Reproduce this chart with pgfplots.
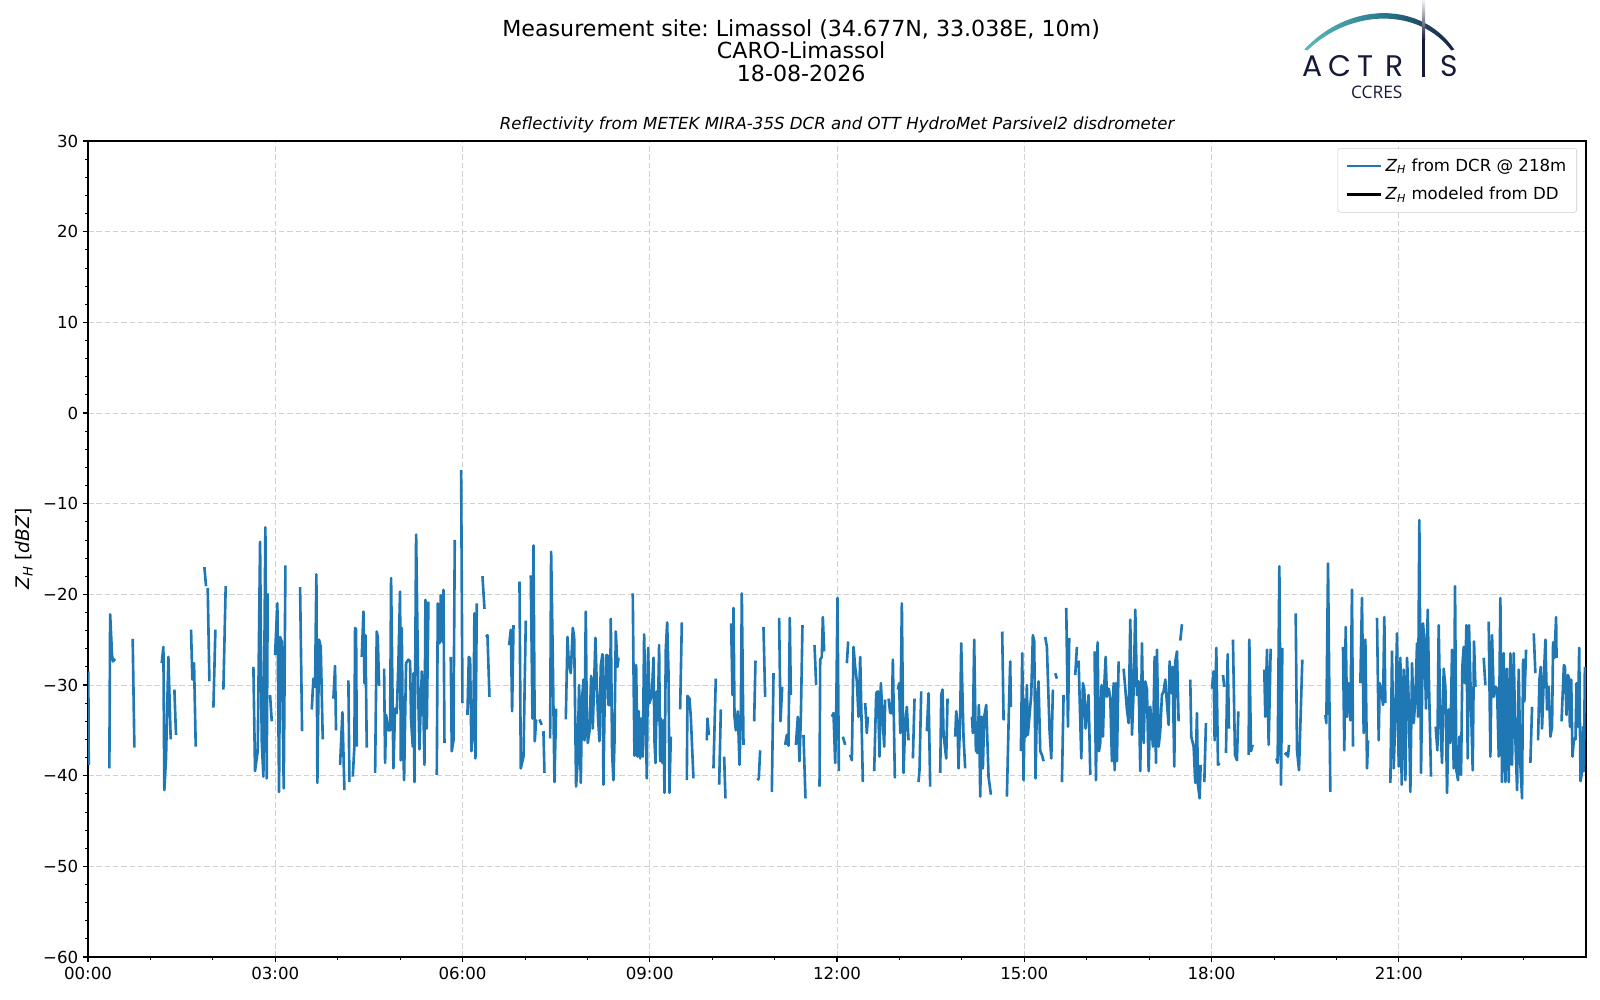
\documentclass[border=0pt]{standalone}
\usepackage{fontspec}
\setmainfont{DejaVu Sans}
\newfontfamily\logofont{Poppins}
\newfontfamily\ccresfont{Open Sans}
\usepackage{pgfplots}
\pgfplotsset{compat=1.18}
\definecolor{mplblue}{HTML}{1F77B4}
\definecolor{logonavy}{HTML}{161A3A}
\definecolor{logoteal}{HTML}{5BBFBA}
\definecolor{logomid}{HTML}{2A7C90}
\newcommand{\ZH}{\textit{Z}\textsubscript{\textit{H}}}
\begin{document}
\frenchspacing
\begin{tikzpicture}
\path[use as bounding box] (0,0) rectangle (40.64cm,25.4cm);
\begin{axis}[
  at={(2.2352cm,1.0922cm)}, anchor=south west,
  scale only axis, width=38.049cm, height=20.726cm,
  xmin=0, xmax=24, ymin=-60, ymax=30,
  xtick={0,3,...,21},
  xticklabels={00:00,03:00,06:00,09:00,12:00,15:00,18:00,21:00},
  minor xtick={1,2,4,5,7,8,10,11,13,14,16,17,19,20,22,23},
  ytick={-60,-50,...,30},
  yticklabels={−60,−50,−40,−30,−20,−10,0,10,20,30},
  minor ytick={-58,-56,...,28},
  tick align=outside, tick pos=left,
  major tick length=3.5pt, minor tick length=2pt,
  every tick/.style={black, line width=0.8pt},
  minor tick style={black, line width=0.6pt},
  axis line style={line width=0.8pt},
  grid=major,
  major grid style={dash pattern=on 4pt off 2pt, color=black!18, line width=0.7pt},
  tick label style={font=\fontsize{12}{14}\selectfont},
  /pgf/number format/assume math mode=true,
  unbounded coords=jump,
  ylabel={\ZH\ [\textit{dBZ}]},
  ylabel style={font=\fontsize{13.5}{15}\selectfont, at={(axis description cs:-0.0427,0.5)}, anchor=center},
  legend style={at={(axis description cs:0.994,0.9914)}, anchor=north east,
    draw=black!20, rounded corners=2pt, fill=white, fill opacity=0.8, text opacity=1,
    font=\fontsize{12}{14}\selectfont, inner xsep=5.5pt, inner ysep=5.5pt, row sep=6pt,
    cells={anchor=west}},
  legend image code/.code={\draw[#1] (0pt,0pt) -- (25pt,0pt);},
]
\addplot[mplblue, line width=1.9pt, line join=round, forget plot] coordinates {
(0.005,-28.5) (0.012,-38.8) (0.013,nan)
(0.342,-39.2) (0.355,-22.2) (0.385,-26.7) (0.40,-27.4) (0.433,-27.1) (0.44,nan)
(0.716,-24.9) (0.743,-36.9) (0.75,nan)
(1.181,-27.6) (1.208,-25.8) (1.223,-41.6) (1.25,-38.1) (1.261,-34.8) (1.288,-26.9) (1.325,-36.0) (1.33,nan)
(1.384,-30.5) (1.41,-35.5) (1.42,nan)
(1.651,-23.9) (1.672,-29.4) (1.699,-27.6) (1.726,-36.8) (1.73,nan)
(1.865,-17.0) (1.891,-19.1) (1.90,nan)
(1.918,-19.3) (1.945,-29.6) (1.95,nan)
(2.009,-32.5) (2.041,-23.9) (2.05,nan)
(2.169,-30.5) (2.206,-19.1) (2.21,nan)
(2.65,-28.0) (2.676,-39.5) (2.719,-37.3) (2.757,-14.2) (2.783,-36.1) (2.81,-40.1) (2.842,-12.6) (2.863,-40.3) (2.879,-19.9) (2.89,nan)
(2.917,-31.1) (2.944,-34.0) (2.95,nan)
(2.997,-26.7) (3.034,-21.0) (3.061,-41.8) (3.077,-24.7) (3.104,-25.2) (3.136,-41.4) (3.163,-16.8) (3.17,nan)
(3.398,-19.2) (3.43,-35.1) (3.44,nan)
(3.585,-32.7) (3.611,-29.3) (3.638,-30.2) (3.659,-17.8) (3.675,-40.8) (3.702,-25.0) (3.729,-25.8) (3.761,-36.0) (3.77,nan)
(3.932,-31.5) (3.958,-27.9) (3.974,-35.0) (3.98,nan)
(4.039,-38.8) (4.076,-33.0) (4.108,-41.6) (4.11,nan)
(4.172,-29.5) (4.188,-40.7) (4.19,nan)
(4.242,-40.1) (4.268,-36.8) (4.279,-23.7) (4.295,-23.9) (4.306,-36.8) (4.31,nan)
(4.386,-26.9) (4.413,-21.9) (4.429,-29.8) (4.445,-24.5) (4.466,-36.9) (4.47,nan)
(4.600,-39.7) (4.626,-24.1) (4.642,-24.7) (4.664,-30.1) (4.67,nan)
(4.744,-28.2) (4.760,-38.6) (4.776,-33.3) (4.813,-35.0) (4.840,-35.0) (4.856,-18.2) (4.893,-39.2) (4.920,-32.6) (4.947,-33.1) (4.973,-27.6) (5.000,-19.7) (5.011,-38.3) (5.027,-23.7) (5.043,-35.0) (5.064,-40.5) (5.096,-27.6) (5.134,-27.2) (5.160,-27.4) (5.176,-33.8) (5.203,-36.8) (5.214,-28.7) (5.230,-40.7) (5.257,-13.4) (5.294,-32.0) (5.310,-37.1) (5.348,-28.5) (5.374,-32.6) (5.390,-38.8) (5.406,-20.6) (5.428,-34.8) (5.454,-20.8) (5.46,nan)
(5.588,-39.9) (5.604,-21.0) (5.631,-25.4) (5.652,-20.1) (5.673,-25.2) (5.695,-19.5) (5.711,-36.4) (5.72,nan)
(5.812,-26.9) (5.828,-37.3) (5.855,-36.1) (5.876,-14.0) (5.88,nan)
(5.978,-6.3) (5.999,-32.0) (6.01,nan)
(6.079,-33.3) (6.101,-26.9) (6.122,-27.1) (6.143,-37.3) (6.175,-34.2) (6.191,-22.1) (6.207,-38.1) (6.229,-21.0) (6.23,nan)
(6.32,-18.0) (6.352,-21.6) (6.36,nan)
(6.378,-24.7) (6.4,-24.5) (6.432,-31.3) (6.44,nan)
(6.747,-25.6) (6.774,-23.9) (6.795,-32.9) (6.817,-23.4) (6.82,nan)
(6.913,-18.6) (6.934,-39.2) (6.977,-37.9) (7.014,-22.9) (7.02,nan)
(7.094,-17.9) (7.121,-33.7) (7.137,-14.6) (7.158,-36.2) (7.18,-33.8) (7.19,nan)
(7.233,-33.8) (7.27,-34.4) (7.28,nan)
(7.297,-35.1) (7.313,-39.7) (7.32,nan)
(7.404,-35.9) (7.42,-15.3) (7.447,-27.2) (7.473,-40.7) (7.5,-32.6) (7.51,nan)
(7.655,-33.8) (7.682,-24.7) (7.703,-27.6) (7.735,-28.7) (7.767,-23.7) (7.789,-24.7)
(7.820,-41.2) (7.842,-38.8) (7.868,-30.0) (7.895,-40.8) (7.916,-31.5) (7.938,-29.4) (7.954,-36.1) (7.975,-21.9) (7.991,-33.5) (8.007,-36.4) (8.034,-35.1) (8.061,-29.0) (8.087,-34.8) (8.109,-29.8) (8.130,-24.8) (8.151,-29.8) (8.173,-33.8) (8.194,-36.2) (8.215,-27.9) (8.242,-26.6) (8.258,-41.0) (8.274,-33.5) (8.301,-26.7) (8.322,-26.7) (8.338,-32.2) (8.365,-32.2) (8.376,-22.7) (8.397,-37.5) (8.418,-40.5) (8.434,-36.6) (8.456,-24.1) (8.483,-28.0) (8.499,-27.0) (8.51,nan)
(8.728,-19.9) (8.739,-27.8) (8.755,-37.8) (8.782,-27.8) (8.803,-37.9) (8.824,-32.9) (8.846,-38.1) (8.867,-33.7) (8.889,-37.9) (8.910,-24.4) (8.931,-31.6) (8.953,-40.3) (8.974,-25.9) (8.995,-32.0) (9.033,-31.1) (9.060,-27.0) (9.076,-36.2) (9.092,-38.6) (9.113,-30.7) (9.129,-33.9) (9.150,-25.6) (9.166,-38.4) (9.182,-33.7) (9.204,-38.6) (9.220,-33.9) (9.236,-41.9) (9.257,-26.1) (9.279,-23.1) (9.300,-28.5) (9.316,-41.9) (9.337,-35.7) (9.34,nan)
(9.487,-32.7) (9.514,-23.1) (9.52,nan)
(9.594,-40.5) (9.604,-31.2) (9.636,-31.5) (9.658,-33.5) (9.700,-40.3) (9.71,nan)
(9.914,-36.1) (9.925,-33.7) (9.946,-35.5) (9.95,nan)
(10.021,-39.2) (10.058,-29.3) (10.06,nan)
(10.112,-41.0) (10.139,-32.7) (10.14,nan)
(10.192,-37.9) (10.213,-42.5) (10.22,nan)
(10.304,-23.2) (10.326,-31.1) (10.342,-21.5) (10.358,-33.5) (10.379,-35.0) (10.411,-32.9) (10.438,-38.8) (10.459,-33.5) (10.475,-19.9) (10.502,-36.6) (10.51,nan)
(10.673,-34.0) (10.694,-27.3) (10.70,nan)
(10.726,-40.5) (10.747,-40.3) (10.769,-37.2) (10.77,nan)
(10.822,-23.6) (10.849,-31.3) (10.85,nan)
(10.956,-41.8) (10.983,-28.7) (10.99,nan)
(11.073,-22.6) (11.095,-34.0) (11.122,-30.2) (11.13,nan)
(11.170,-36.6) (11.196,-35.5) (11.223,-36.7) (11.244,-22.6) (11.260,-31.1) (11.27,nan)
(11.341,-36.6) (11.373,-33.5) (11.399,-38.4) (11.421,-33.5) (11.447,-23.4) (11.45,nan)
(11.463,-35.5) (11.495,-42.5) (11.50,nan)
(11.640,-25.6) (11.666,-30.0) (11.67,nan)
(11.720,-41.2) (11.731,-27.2) (11.757,-26.9) (11.773,-22.5) (11.795,-26.3) (11.80,nan)
(11.918,-33.5) (11.944,-33.1) (11.971,-38.6) (11.987,-33.5) (12.008,-20.4) (12.030,-39.5) (12.04,nan)
(12.094,-35.7) (12.131,-36.6) (12.14,nan)
(12.158,-27.6) (12.179,-25.2) (12.19,nan)
(12.211,-37.7) (12.238,-38.3) (12.265,-25.8) (12.291,-28.0) (12.318,-29.6) (12.345,-33.5) (12.372,-26.9) (12.414,-40.7) (12.42,nan)
(12.452,-32.0) (12.478,-35.3) (12.494,-33.5) (12.50,nan)
(12.596,-39.5) (12.628,-30.9) (12.655,-30.7) (12.681,-37.9) (12.703,-29.8) (12.724,-32.7) (12.756,-36.8) (12.772,-31.6) (12.78,nan)
(12.826,-31.5) (12.852,-33.1) (12.879,-33.1) (12.895,-27.2) (12.927,-40.3) (12.93,nan)
(12.975,-30.5) (12.997,-29.8) (13.013,-35.3) (13.039,-21.0) (13.066,-39.7) (13.087,-35.3) (13.119,-32.4) (13.146,-36.1) (13.15,nan)
(13.216,-38.1) (13.242,-31.5) (13.25,nan)
(13.306,-40.7) (13.322,-39.4) (13.349,-30.7) (13.35,nan)
(13.440,-35.1) (13.467,-30.9) (13.493,-41.2) (13.50,nan)
(13.654,-39.7) (13.670,-31.1) (13.691,-30.5) (13.707,-35.5) (13.750,-38.1) (13.771,-31.5) (13.78,nan)
(13.894,-35.7) (13.910,-32.9) (13.931,-34.2) (13.947,-39.2) (13.974,-33.5) (13.990,-25.4) (14.027,-35.7) (14.054,-39.2) (14.06,nan)
(14.161,-33.5) (14.177,-35.3) (14.198,-25.0) (14.225,-37.2) (14.252,-37.5) (14.273,-32.2) (14.295,-42.3) (14.316,-33.5) (14.337,-39.2) (14.359,-33.5) (14.391,-32.2) (14.428,-40.1) (14.466,-42.1) (14.47,nan)
(14.647,-24.1) (14.669,-33.9) (14.67,nan)
(14.722,-42.3) (14.754,-32.7) (14.775,-27.4) (14.786,-32.4) (14.79,nan)
(14.946,-37.3) (14.968,-26.5) (14.989,-40.5) (15.010,-31.6) (15.026,-35.7) (15.042,-30.0) (15.058,-35.5) (15.112,-31.1) (15.138,-24.5) (15.160,-25.2) (15.181,-40.3) (15.203,-32.0) (15.229,-29.6) (15.256,-37.3) (15.283,-37.7) (15.310,-38.4) (15.32,nan)
(15.336,-24.7) (15.363,-25.8) (15.406,-35.1) (15.433,-38.1) (15.459,-30.5) (15.46,nan)
(15.497,-28.7) (15.523,-29.3) (15.53,nan)
(15.604,-40.7) (15.630,-31.1) (15.64,nan)
(15.673,-21.5) (15.700,-34.6) (15.721,-24.8) (15.73,nan)
(15.817,-28.9) (15.844,-25.8) (15.85,nan)
(15.871,-27.3) (15.914,-38.1) (15.940,-29.8) (15.962,-30.5) (15.983,-34.8) (16.031,-31.1) (16.058,-39.9) (16.06,nan)
(16.127,-26.3) (16.149,-40.5) (16.175,-25.3) (16.197,-37.3) (16.218,-36.4) (16.239,-30.0) (16.261,-35.7) (16.282,-30.1) (16.304,-26.9) (16.325,-31.3) (16.352,-30.4) (16.378,-31.3) (16.405,-38.4) (16.432,-29.8) (16.448,-39.4) (16.469,-29.8) (16.485,-38.4) (16.512,-27.4) (16.52,nan)
(16.592,-28.2) (16.619,-30.4) (16.645,-32.7) (16.672,-34.2) (16.699,-22.8) (16.726,-35.5) (16.752,-30.7) (16.779,-21.7) (16.806,-31.1) (16.832,-29.6) (16.859,-39.5) (16.886,-25.4) (16.913,-36.4) (16.939,-29.6) (16.966,-30.5) (16.993,-39.5) (17.019,-32.4) (17.062,-36.8) (17.089,-26.9) (17.110,-38.6) (17.126,-26.1) (17.153,-36.8) (17.180,-35.0) (17.206,-31.1) (17.233,-30.7) (17.260,-29.4) (17.286,-32.0) (17.313,-34.4) (17.329,-27.4) (17.356,-30.9) (17.377,-28.0) (17.404,-39.0) (17.420,-27.4) (17.447,-26.3) (17.473,-34.0) (17.48,nan)
(17.500,-25.1) (17.527,-23.3) (17.53,nan)
(17.660,-29.4) (17.676,-35.7) (17.714,-36.8) (17.740,-40.8) (17.767,-33.1) (17.783,-41.0) (17.810,-42.5) (17.826,-38.8) (17.83,nan)
(17.885,-40.7) (17.911,-34.2) (17.92,nan)
(18.008,-30.4) (18.034,-28.5) (18.050,-36.1) (18.077,-25.9) (18.104,-38.8) (18.130,-38.6) (18.14,nan)
(18.184,-28.9) (18.205,-30.2) (18.21,nan)
(18.232,-37.5) (18.259,-26.6) (18.280,-34.8) (18.29,nan)
(18.344,-25.0) (18.376,-37.7) (18.408,-38.3) (18.430,-32.9) (18.44,nan)
(18.595,-37.7) (18.606,-25.0) (18.633,-37.3) (18.659,-36.6) (18.66,nan)
(18.846,-28.3) (18.862,-33.5) (18.889,-26.1) (18.916,-36.6) (18.948,-26.0) (18.95,nan)
(19.039,-38.1) (19.060,-38.6) (19.087,-16.9) (19.114,-41.0) (19.135,-25.9) (19.14,nan)
(19.172,-37.7) (19.199,-37.5) (19.226,-37.9) (19.242,-36.6) (19.25,nan)
(19.349,-22.1) (19.370,-37.2) (19.402,-39.4) (19.455,-27.2) (19.46,nan)
(19.824,-33.3) (19.840,-34.2) (19.867,-16.6) (19.904,-41.8) (19.91,nan)
(20.107,-25.8) (20.128,-37.2) (20.150,-23.6) (20.171,-33.5) (20.198,-29.8) (20.225,-33.9) (20.251,-19.5) (20.267,-36.8) (20.27,nan)
(20.385,-29.8) (20.411,-20.4) (20.438,-35.3) (20.465,-25.0) (20.492,-39.2) (20.508,-36.1) (20.51,nan)
(20.652,-22.6) (20.679,-36.1) (20.695,-29.8) (20.721,-30.5) (20.748,-32.2) (20.769,-22.5) (20.785,-32.0) (20.79,nan)
(20.866,-40.8) (20.892,-26.3) (20.919,-39.2) (20.946,-33.5) (20.972,-24.3) (20.999,-39.0) (21.026,-27.0) (21.047,-41.0) (21.079,-28.3) (21.106,-40.5) (21.133,-27.0) (21.159,-31.5) (21.186,-41.8) (21.213,-27.6) (21.240,-34.2) (21.266,-31.5) (21.293,-25.4) (21.309,-33.5) (21.330,-11.8) (21.357,-39.7) (21.389,-23.2) (21.410,-25.0) (21.437,-32.6) (21.464,-21.7) (21.485,-30.0) (21.517,-40.1) (21.52,nan)
(21.592,-34.6) (21.619,-37.2) (21.640,-23.4) (21.667,-34.4) (21.694,-38.6) (21.720,-28.2) (21.747,-30.2) (21.774,-41.9) (21.800,-32.7) (21.827,-36.4) (21.854,-26.1) (21.880,-39.2) (21.902,-19.1) (21.923,-39.4) (21.950,-40.5) (21.971,-35.7) (21.998,-39.9) (22.019,-28.0) (22.041,-25.8) (22.062,-29.8) (22.084,-23.4) (22.105,-38.1) (22.126,-23.4) (22.158,-32.4) (22.185,-39.4) (22.206,-25.2) (22.228,-30.2) (22.23,nan)
(22.361,-27.0) (22.388,-30.0) (22.39,nan)
(22.441,-23.0) (22.468,-37.9) (22.495,-24.5) (22.522,-31.3) (22.548,-30.2) (22.575,-30.4) (22.602,-37.9) (22.628,-20.4) (22.655,-40.7) (22.682,-26.5) (22.709,-40.7) (22.735,-28.2) (22.762,-40.7) (22.789,-26.5) (22.815,-38.8) (22.842,-26.5) (22.869,-36.1) (22.896,-41.6) (22.922,-28.3) (22.949,-38.8) (22.976,-42.5) (22.992,-27.2) (23.013,-31.8) (23.040,-26.1) (23.05,nan)
(23.109,-38.6) (23.136,-32.4) (23.14,nan)
(23.163,-24.3) (23.189,-28.7) (23.19,nan)
(23.232,-36.1) (23.254,-29.4) (23.275,-28.0) (23.296,-34.8) (23.323,-29.4) (23.350,-25.0) (23.376,-32.7) (23.403,-30.2) (23.430,-35.7) (23.456,-34.6) (23.473,-25.3) (23.494,-27.0) (23.521,-22.5) (23.528,-27.0) (23.53,nan)
(23.608,-34.0) (23.646,-27.8) (23.662,-28.0) (23.688,-33.3) (23.710,-28.9) (23.726,-29.2) (23.742,-34.6) (23.763,-29.4) (23.784,-37.9) (23.806,-36.0) (23.832,-36.0) (23.848,-29.8) (23.870,-34.6) (23.891,-25.9) (23.912,-40.6) (23.934,-39.7) (23.955,-34.6) (23.966,-39.5) (23.982,-28.0)
};
\addlegendimage{mplblue, line width=1.9pt}
\addlegendentry{\ZH\ from DCR @ 218m}
\addlegendimage{black, line width=1.9pt}
\addlegendentry{\ZH\ modeled from DD}
\end{axis}
\begin{scope}[yshift=25.4cm, x=0.0254cm, y=-0.0254cm]
\node[anchor=base, font=\fontsize{16}{19}\selectfont, inner sep=0pt] at (801,36.7) {Measurement site: Limassol (34.677N, 33.038E, 10m)};
\node[anchor=base, font=\fontsize{16}{19}\selectfont, inner sep=0pt] at (801,58.3) {CARO-Limassol};
\node[anchor=base, font=\fontsize{16}{19}\selectfont, inner sep=0pt] at (801,81) {18-08-2026};
\node[anchor=base, font=\fontsize{12}{14}\selectfont\itshape, inner sep=0pt] at (837,129) {Reflectivity from METEK MIRA-35S DCR and OTT HydroMet Parsivel2 disdrometer};
% logo
\begin{scope}
\clip (1304,49.5) .. controls (1349,1) and (1421,1) .. (1454,49.5) -- (1451,50.5) .. controls (1419,8) and (1351,8) .. (1307,50.5) -- cycle;
\shade[left color=logoteal, right color=logonavy, middle color=logomid] (1300,0) rectangle (1460,60);
\end{scope}
\shade[top color=logonavy!5, bottom color=logonavy] (1421.8,0) rectangle (1424.8,40);
\fill[logonavy] (1421.8,39.5) rectangle (1424.8,76.5);
\begin{scope}[every node/.style={anchor=base, inner sep=0pt, text=logonavy, font=\logofont\fontsize{21.5}{22}\selectfont}]
\node at (1312.5,76.5) {A};
\node at (1339.5,76.5) {C};
\node at (1365,76.5) {T};
\node at (1394.5,76.5) {R};
\node at (1448.5,76.5) {S};
\end{scope}
\node[anchor=base, inner sep=0pt, text=logonavy, font=\ccresfont\fontsize{12.5}{14}\selectfont] at (1376.5,98.3) {CCRES};
\end{scope}
\end{tikzpicture}
\end{document}
